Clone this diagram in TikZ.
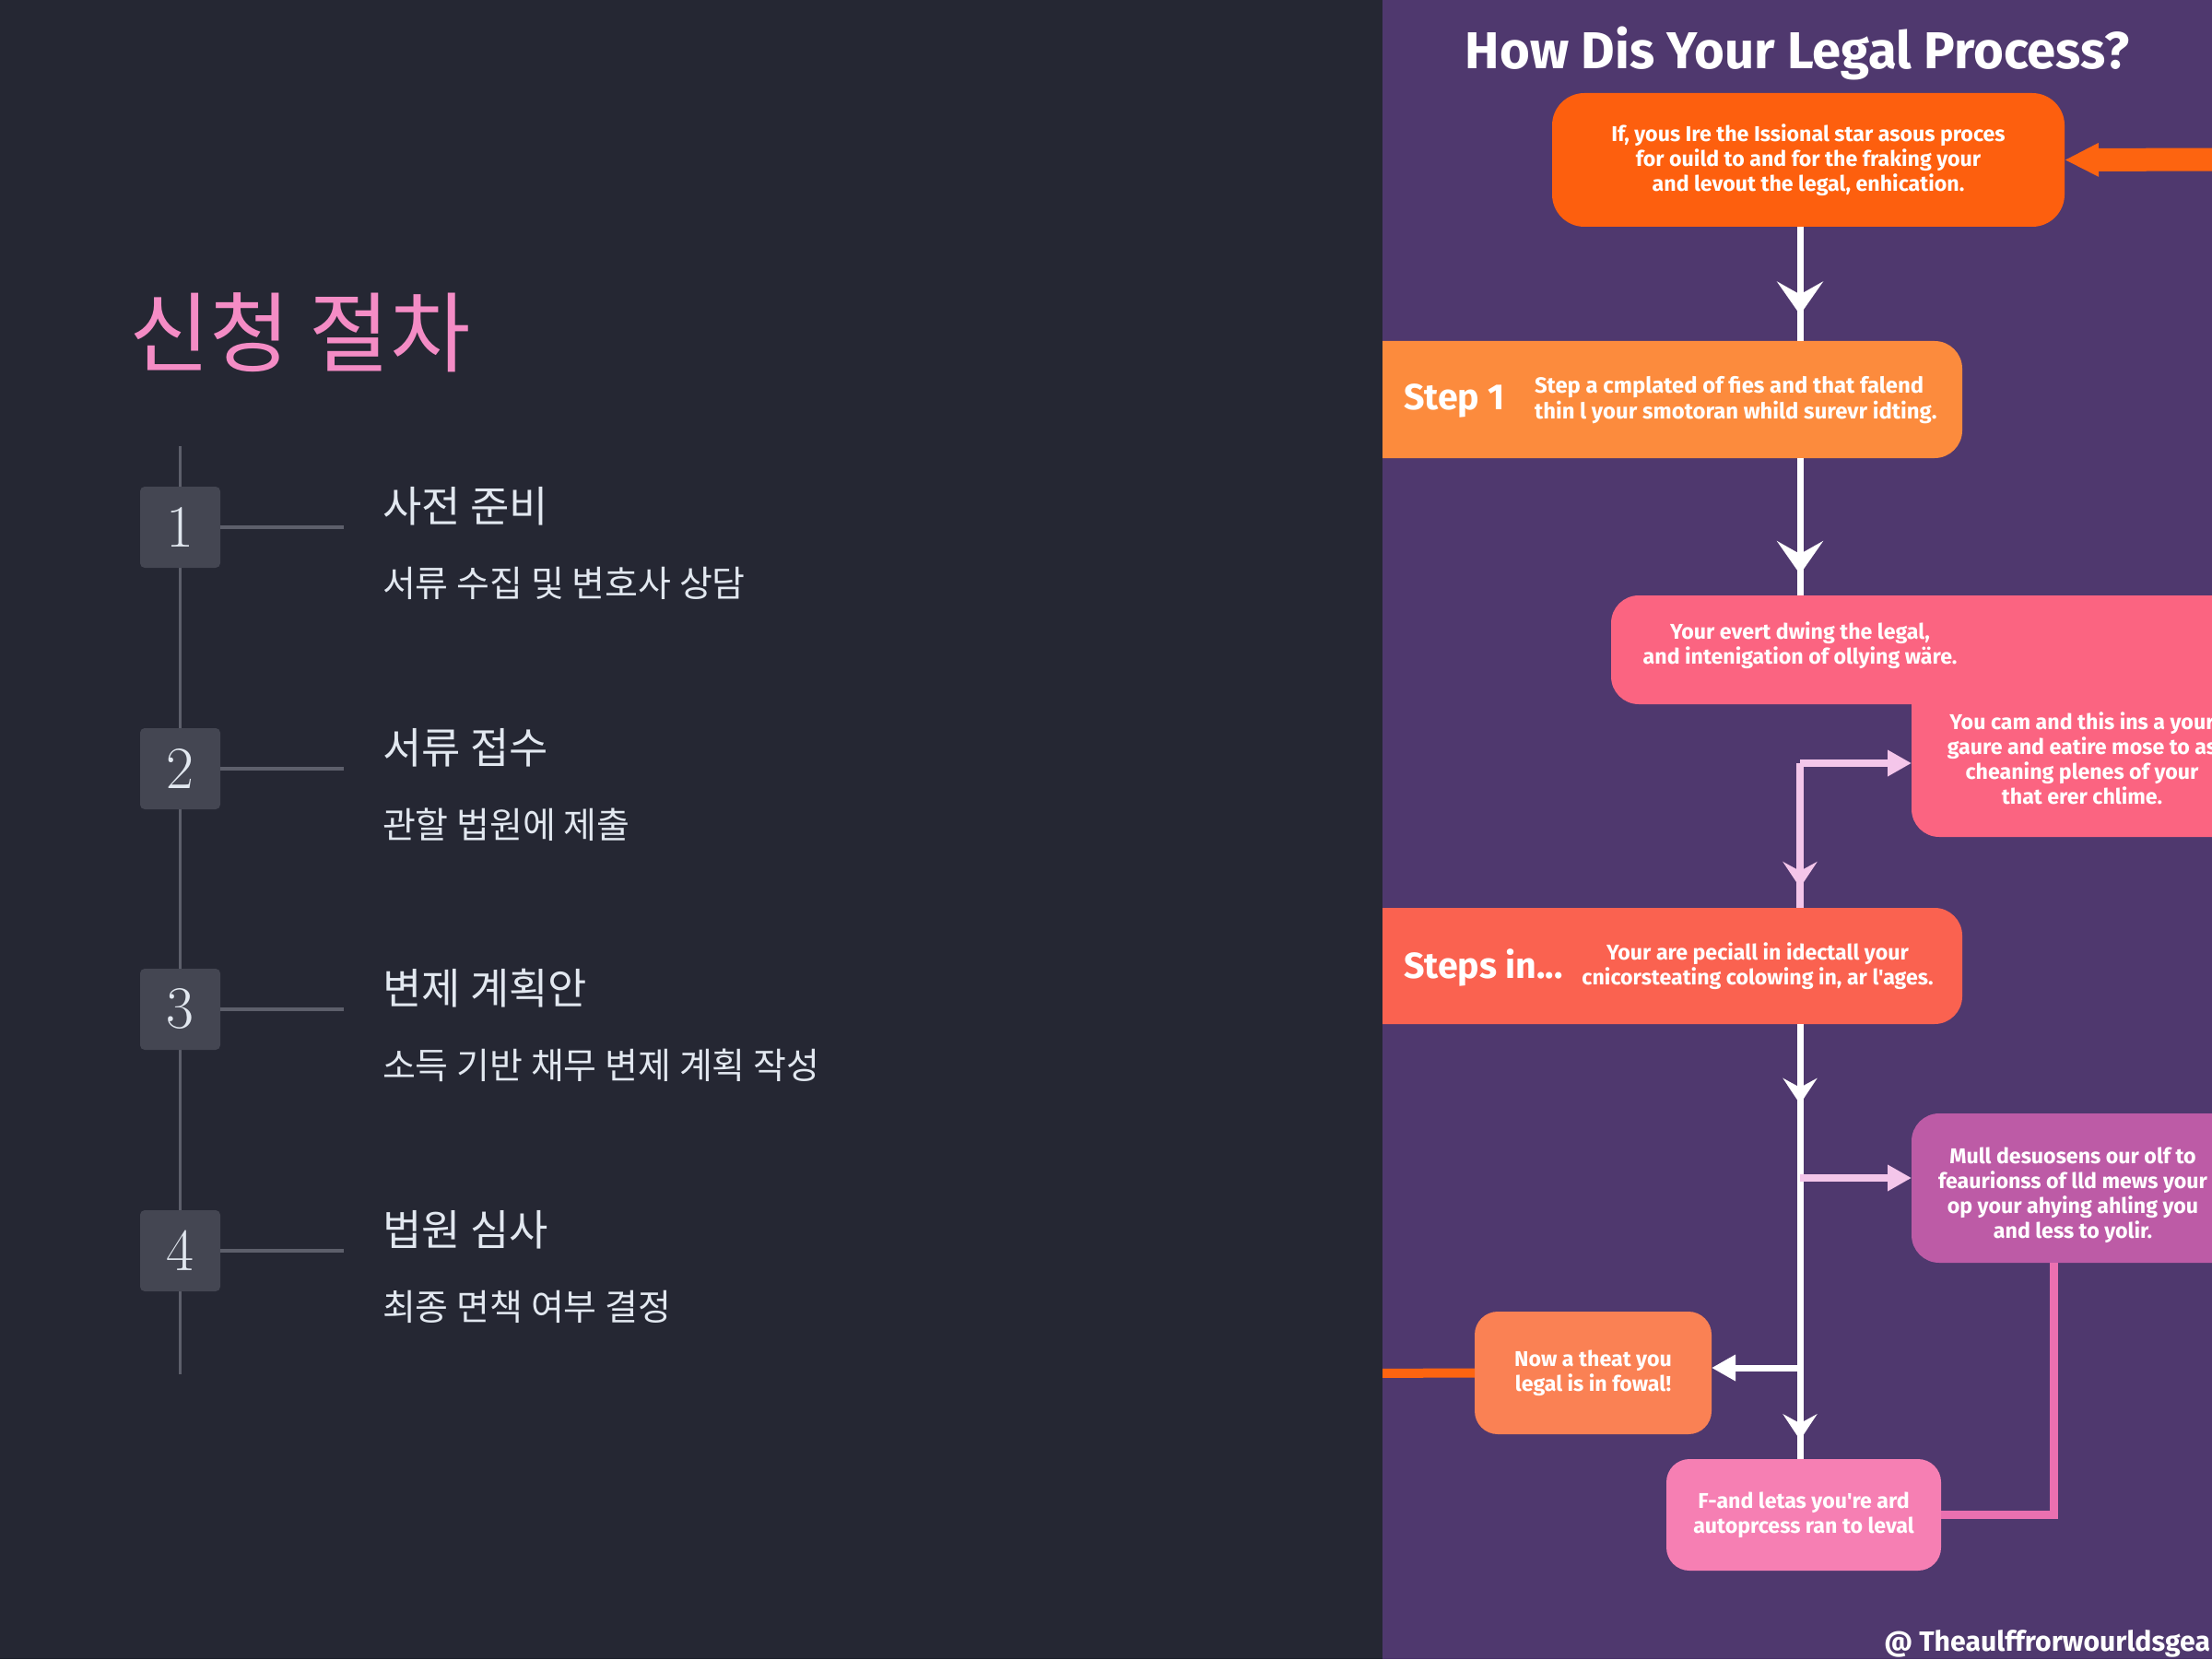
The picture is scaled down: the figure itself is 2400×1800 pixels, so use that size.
\documentclass[tikz,border=0pt]{standalone}
\usepackage{fontspec}
\usepackage{tikz}
\usetikzlibrary{arrows.meta, positioning, decorations.markings}

\newfontfamily\krfont{Noto Sans CJK KR}
\newfontfamily\flowfont{Fira Sans}

\definecolor{pagebg}{HTML}{252733}
\definecolor{spinegray}{HTML}{5D5F6B}
\definecolor{numfill}{HTML}{444652}
\definecolor{softwhite}{HTML}{E2E8F0}
\definecolor{titlepink}{HTML}{F48CC5}
\definecolor{panelbg}{HTML}{4F386E}
\definecolor{introorange}{HTML}{FD5F0E}
\definecolor{steporange}{HTML}{FC8B3D}
\definecolor{evtpink}{HTML}{FB6481}
\definecolor{stepsred}{HTML}{FA6250}
\definecolor{mullmag}{HTML}{BD5BA6}
\definecolor{noworange}{HTML}{FA8154}
\definecolor{finpink}{HTML}{F67FB3}
\definecolor{palepink}{HTML}{F4C6EA}
\definecolor{droppink}{HTML}{EA70B0}
\definecolor{feedorange}{HTML}{FD6410}

\begin{document}
\begin{tikzpicture}[x=0.1mm, y=-0.1mm,
    every node/.style={inner sep=0pt, outer sep=0pt},
    tline/.style={spinegray, line width=0.3mm},
    tickline/.style={spinegray, line width=0.45mm},
    numbox/.style={fill=numfill, rounded corners=0.5mm, minimum width=8.7mm, minimum height=8.8mm, text=softwhite, font=\fontsize{18.5}{20}\selectfont},
    headtxt/.style={anchor=base west, text=softwhite, font=\krfont\fontsize{13.1}{15}\selectfont},
    subtxt/.style={anchor=base west, text=softwhite, font=\krfont\fontsize{11.1}{13}\selectfont},
    flowbox/.style={rounded corners=3mm, align=center, text=white, font=\flowfont\bfseries\fontsize{6.6}{7.7}\selectfont},
    flowtxt/.style={align=center, text=white, font=\flowfont\bfseries\fontsize{6.6}{7.7}\selectfont},
    steplbl/.style={anchor=west, text=white, font=\flowfont\bfseries\fontsize{11.2}{13}\selectfont},
    wline/.style={white, line width=0.7mm},
    pline/.style={palepink, line width=0.8mm},
    bigtip/.style={postaction={decorate}, decoration={markings, mark=at position #1 with {\arrow{Stealth[length=3.6mm, width=5mm, inset=1.4mm]}}}},
    smalltips/.style={postaction={decorate}, decoration={markings,
        mark=at position 0.184 with {\arrow{Stealth[length=2.8mm, width=3.7mm, inset=1mm]}},
        mark=at position 0.956 with {\arrow{Stealth[length=2.8mm, width=3.7mm, inset=1mm]}}}},
    sidetip/.style={-{Triangle[length=2.6mm, width=2.7mm]}}
]
\useasboundingbox (0,0) rectangle (2400,1800);
\fill[pagebg] (0,0) rectangle (1500,1800);

% timeline
\node[anchor=base west, text=titlepink, font=\krfont\fontsize{27}{30}\selectfont] (ttl) at (140,397) {신청 절차};
\coordinate (ttop) at (195,484);
\coordinate (tbot) at (195,1491);
\draw[tline] (ttop) -- (tbot);

\foreach \i/\y/\head/\sub in {1/572/사전 준비/서류 수집 및 변호사 상담,
                               2/834/서류 접수/관할 법원에 제출,
                               3/1095/변제 계획안/소득 기반 채무 변제 계획 작성,
                               4/1357/법원 심사/최종 면책 여부 결정}{
  \node[numbox] (num\i) at (195.5,\y) {\i};
  \coordinate (tick\i) at (373,\y);
  \draw[tickline] (num\i.east) -- (tick\i);
  \node[headtxt] (head\i) at (415,{\y-6}) {\head};
  \node[subtxt] (sub\i) at (415,{\y+75}) {\sub};
}

% flowchart panel
\begin{scope}
\clip (1500,0) rectangle (2400,1800);
\fill[panelbg] (1500,0) rectangle (2400,1800);

\node[anchor=base, text=white, font=\flowfont\bfseries\fontsize{16}{18}\selectfont] (ftitle) at (1950,75) {How Dis Your Legal Process?};

\node[flowbox, fill=introorange, minimum width=55.6mm, minimum height=14.5mm, rounded corners=3.5mm] (intro) at (1962,173.5)
  {If, yous Ire the Issional star asous proces\\for ouild to and for the fraking your\\and levout the legal, enhication.};

\node[flowbox, fill=steporange, minimum width=67.9mm, minimum height=12.7mm] (stepone) at (1789.5,433.5) {};
\node[steplbl] (steponelbl) at (1523,435) {Step 1};
\node[anchor=west, align=left, text=white, font=\flowfont\bfseries\fontsize{6.8}{8.2}\selectfont] (steponetxt) at (1665,434)
  {Step a cmplated of fies and that falend\\thin l your smotoran whild surevr idting.};

\node[flowbox, fill=evtpink, minimum width=37.6mm, minimum height=18.8mm] (cam) at (2262,814) {};
\node[flowbox, fill=evtpink, minimum width=70.2mm, minimum height=11.8mm] (evt) at (2099,705) {};
\node[flowtxt] (evttxt) at (1953,700) {Your evert dwing the legal,\\and intenigation of ollying wäre.};
\node[flowtxt] (camtxt) at (2259,822.5) {You cam and this ins a your\\gaure and eatire mose to as\\cheaning plenes of your\\that erer chlime.};

\node[flowbox, fill=stepsred, minimum width=67.9mm, minimum height=12.6mm] (stepsin) at (1789.5,1048) {};
\node[steplbl] (stepsinlbl) at (1523,1050) {Steps in...};
\node[flowtxt] (stepsintxt) at (1907,1048.5) {Your are peciall in idectall your\\cnicorsteating colowing in, ar l'ages.};

\node[flowbox, fill=mullmag, minimum width=37.6mm, minimum height=16.2mm] (mull) at (2262,1289) {};
\node[flowtxt] (mulltxt) at (2249,1297) {Mull desuosens our olf to\\feaurionss of lld mews your\\op your ahying ahling you\\and less to yolir.};

\node[flowbox, fill=noworange, minimum width=25.7mm, minimum height=13.3mm, rounded corners=2.5mm] (nowbox) at (1728.5,1489.5)
  {Now a theat you\\legal is in fowal!};
\node[flowbox, fill=finpink, minimum width=29.8mm, minimum height=12.1mm, rounded corners=2.5mm] (fin) at (1957,1643.5)
  {F-and letas you're ard\\autoprcess ran to leval};

\coordinate (spine) at (1953,0);
\coordinate (dropx) at (2228,0);
\coordinate (brA) at (1953,828);
\coordinate (brB) at (1953,1278);
\coordinate (brC) at (1953,1484);
\coordinate (feedin) at (2420,173);
\coordinate (feedout) at (1480,1490);

\draw[wline, bigtip=0.77] (intro.south -| spine) -- (stepone.north -| spine);
\draw[wline, bigtip=0.846] (stepone.south -| spine) -- (evt.north -| spine);
\draw[pline, postaction={decorate}, decoration={markings, mark=at position 0.86 with {\arrow{Stealth[length=2.8mm, width=3.7mm, inset=1mm]}}}] (brA) -- (stepsin.north -| spine);
\draw[pline, sidetip] (brA) -- (brA -| cam.west);
\draw[wline, smalltips] (stepsin.south -| spine) -- (fin.north -| spine);
\draw[pline, sidetip] (brB) -- (brB -| mull.west);
\draw[wline, sidetip] (brC) -- (brC -| nowbox.east);
\draw[droppink, line width=0.9mm] (mull.south -| dropx) |- (fin.east);
\draw[feedorange, line width=2.5mm, -{Triangle[length=3.7mm, width=3.4mm]}] (feedin) -- (intro.east);
\draw[feedorange, line width=1mm] (nowbox.west) -- (feedout);

\node[anchor=base east, text=white, font=\flowfont\bfseries\fontsize{8.6}{10}\selectfont] (wmark) at (2398,1791) {@ Theaulffrorwourldsgea};
\end{scope}
\end{tikzpicture}
\end{document}
